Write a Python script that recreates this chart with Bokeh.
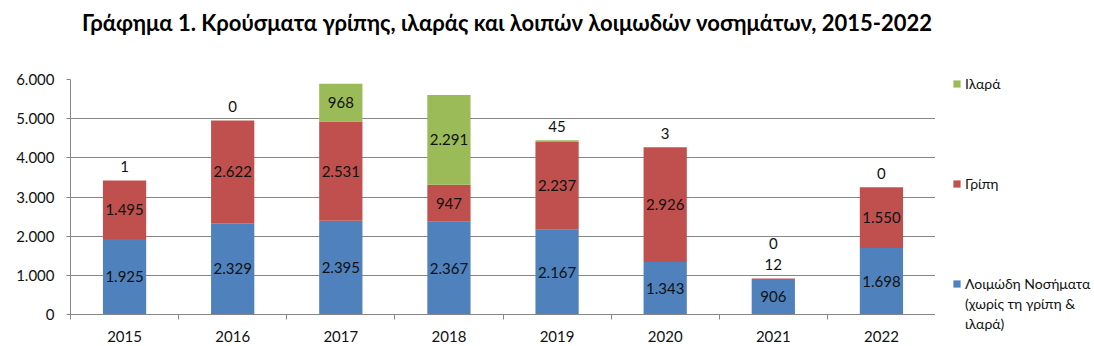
from bokeh.plotting import figure
from bokeh.layouts import row, column
from bokeh.models import (ColumnDataSource, FixedTicker, Legend, LegendItem, LabelSet, Range1d, Div)
from bokeh.core.properties import value
from bokeh.embed import file_html
from bokeh.resources import INLINE

years = ["2015", "2016", "2017", "2018", "2019", "2020", "2021", "2022"]
loimodi = [1925, 2329, 2395, 2367, 2167, 1343, 906, 1698]
gripi = [1495, 2622, 2531, 947, 2237, 2926, 12, 1550]
ilara = [1, 0, 968, 2291, 45, 3, 0, 0]
y_ticks = [0, 1000, 2000, 3000, 4000, 5000, 6000]

title_text = "Γράφημα 1. Κρούσματα γρίπης, ιλαράς και λοιπών λοιμωδών νοσημάτων, 2015-2022"
series_names = ["Λοιμώδη Νοσήματα", "Γρίπη", "Ιλαρά"]
legend_extra_lines = ["(χωρίς τη γρίπη &", "ιλαρά)"]
colors = ["#4F81BD", "#C0504D", "#9BBB59"]

FONT = "Lato"
GRID = "#868686"

def fmt(v):
    return f"{v:,}".replace(",", ".")

xs = [i + 0.5 for i in range(len(years))]
src = ColumnDataSource(dict(x=xs, loimodi=loimodi, gripi=gripi, ilara=ilara))
stack_cols = ["loimodi", "gripi", "ilara"]

title_div = Div(text=title_text, width=1004, height=36,
                styles={"font-family": FONT, "font-weight": "bold", "font-size": "22px",
                        "line-height": "36px", "text-align": "center", "color": "#000000",
                        "white-space": "nowrap"})

p = figure(width=935, height=310, output_backend="svg", toolbar_location=None,
           x_range=(0, len(years)), y_range=(0, 6000),
           min_border_left=70, min_border_right=0, min_border_top=33, min_border_bottom=42)
p.outline_line_color = None
p.background_fill_color = "white"
# built-in title unused (the title is the Div above); make it take no room
p.title.text = ""
p.title.text_font_size = "0px"
p.title.standoff = 0
p.title.offset = 0

renderers = p.vbar_stack(stack_cols, x="x", width=0.4,
                         color=colors, line_color=None, source=src)

# data labels
lx, ly, lt, loff = [], [], [], []
bottoms = [0] * len(years)
small_count = [0] * len(years)
totals = [a + b + c for a, b, c in zip(loimodi, gripi, ilara)]
for vals in (loimodi, gripi, ilara):
    for i, v in enumerate(vals):
        if v >= 150:
            lx.append(xs[i]); ly.append(bottoms[i] + v / 2); loff.append(0)
        else:
            lx.append(xs[i]); ly.append(totals[i]); loff.append(14 + 21 * small_count[i])
            small_count[i] += 1
        lt.append(fmt(v))
        bottoms[i] += v
lsrc = ColumnDataSource(dict(x=lx, y=ly, t=lt, off=loff))
labels = LabelSet(x="x", y="y", text="t", y_offset="off", source=lsrc,
                  text_align="center", text_baseline="middle",
                  text_font=value(FONT), text_font_size=value("15px"), text_color="#111111")
p.add_layout(labels)

# axes
p.yaxis.ticker = FixedTicker(ticks=y_ticks)
p.yaxis.major_label_overrides = {t: fmt(t) for t in y_ticks}
p.yaxis.major_tick_out = 4
p.yaxis.major_tick_in = 0
p.yaxis.minor_tick_line_color = None
p.yaxis.axis_line_color = GRID
p.yaxis.major_tick_line_color = GRID
p.yaxis.major_label_text_font = FONT
p.yaxis.major_label_text_font_size = "15px"
p.yaxis.major_label_text_color = "#111111"
p.yaxis.major_label_standoff = 12

p.xaxis.ticker = FixedTicker(ticks=xs, minor_ticks=list(range(len(years) + 1)))
p.xaxis.major_label_overrides = {x: y for x, y in zip(xs, years)}
p.xaxis.major_tick_line_color = None
p.xaxis.minor_tick_out = 5
p.xaxis.minor_tick_in = 0
p.xaxis.minor_tick_line_color = GRID
p.xaxis.axis_line_color = GRID
p.xaxis.major_label_text_font = FONT
p.xaxis.major_label_text_font_size = "15px"
p.xaxis.major_label_text_color = "#111111"
p.xaxis.major_label_standoff = 10

p.xgrid.grid_line_color = None
p.ygrid.grid_line_color = GRID
p.ygrid.ticker = FixedTicker(ticks=y_ticks)

# legend panel: a narrow figure to the right; its bars lie outside its visible range,
# they only supply the legend swatches
lg = figure(width=159, height=310, output_backend="svg", toolbar_location=None,
            x_range=Range1d(-20, -19), y_range=Range1d(0, 1),
            min_border=0, x_axis_location=None, y_axis_location=None)
lg.outline_line_color = None
lg.grid.visible = False
lg.title.text = ""
lg.title.text_font_size = "0px"
lg.title.standoff = 0
swatches = lg.vbar_stack(stack_cols, x="x", width=0.4, color=colors, line_color=None, source=src)
blank = lg.scatter(x=[], y=[], size=1, fill_alpha=0, line_alpha=0)

spacer = lambda: LegendItem(label=" ", renderers=[blank])
items = [LegendItem(label=series_names[2], renderers=[swatches[2]])]
items += [spacer() for _ in range(4)]
items += [LegendItem(label=series_names[1], renderers=[swatches[1]])]
items += [spacer() for _ in range(4)]
items += [LegendItem(label=series_names[0], renderers=[swatches[0]])]
items += [LegendItem(label=t, renderers=[blank]) for t in legend_extra_lines]
legend = Legend(items=items, location=(17, -19), orientation="vertical",
                glyph_width=9, glyph_height=9, label_height=20, label_text_font=FONT,
                label_text_font_size="14px", label_text_color="#111111",
                spacing=0, padding=0, margin=0, label_standoff=4,
                border_line_color=None, background_fill_alpha=0)
lg.add_layout(legend, "left")

layout = column(title_div, row(p, lg, spacing=0), spacing=0)
open("out.html", "w").write(file_html(layout, INLINE))
